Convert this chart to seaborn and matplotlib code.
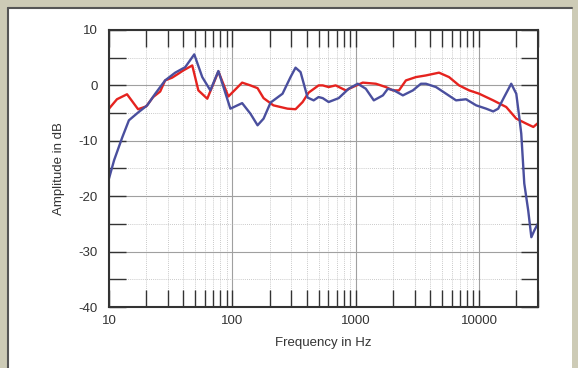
import matplotlib
matplotlib.use("Agg")
import matplotlib.pyplot as plt
import matplotlib.ticker as mticker
from matplotlib.patches import Rectangle
from matplotlib.lines import Line2D
import seaborn as sns
import pandas as pd

# ---- data ----
red_freq = [10, 11.6, 14, 17.2, 20, 22.8, 26, 28.5, 32.5, 36.4, 40, 47.3, 53, 62.6,
            77, 92.8, 120, 140, 160, 179, 215, 280, 325, 371, 415, 500, 540, 603,
            687, 830, 946, 1140, 1455, 1755, 2000, 2240, 2550, 3075, 3705, 4730,
            5705, 6875, 8300, 10000, 13000, 16580, 20000, 24100, 27500, 30000]
red_db = [-4.2, -2.5, -1.6, -4.3, -3.8, -2.1, -1.1, 0.9, 1.4, 2.1, 2.7, 3.6, -0.9, -2.4,
          2.5, -2.0, 0.5, 0.0, -0.5, -2.3, -3.6, -4.2, -4.3, -3.0, -1.3, 0.0, 0.0, -0.3,
          0.0, -0.9, -0.3, 0.5, 0.3, -0.3, -0.9, -0.9, 0.9, 1.5, 1.8, 2.3,
          1.5, 0.0, -0.9, -1.5, -2.7, -3.9, -6.0, -6.9, -7.5, -6.8]

blue_freq = [10, 11, 12.8, 14.5, 17.2, 20.4, 23.7, 28.5, 34.4, 41.5, 49.1, 57, 66.3,
             77, 96.3, 120, 140, 160, 179, 204, 255, 296, 325, 357, 407, 456, 500,
             540, 603, 727, 877, 1038, 1206, 1400, 1660, 1820, 2040, 2410, 2905,
             3375, 3705, 4470, 5395, 6500, 7835, 9460, 11400, 13000, 14270, 15960,
             18200, 20000, 21140, 21950, 23220, 25000, 26500, 28000, 30000]
blue_db = [-16.8, -13.5, -9.4, -6.3, -4.9, -3.6, -1.5, 0.9, 2.3, 3.3, 5.6, 1.5, -0.9,
           2.6, -4.2, -3.2, -5.1, -7.2, -6.0, -3.1, -1.5, 1.5, 3.2, 2.4, -2.2, -2.7, -2.1,
           -2.3, -3.0, -2.3, -0.6, 0.3, -0.6, -2.7, -1.8, -0.6, -0.9, -1.8, -0.9,
           0.3, 0.3, -0.3, -1.5, -2.7, -2.5, -3.6, -4.2, -4.7, -4.2, -2.1,
           0.3, -1.5, -5.7, -8.7, -17.7, -22.6, -27.4, -26.2, -24.9]

x_major = [10, 100, 1000, 10000]
x_labels = ["10", "100", "1000", "10000"]
y_major = [-40, -30, -20, -10, 0, 10]
y_labels = ["-40", "-30", "-20", "-10", "0", "10"]

df = pd.concat([
    pd.DataFrame({"Frequency": red_freq, "dB": red_db, "series": "red"}),
    pd.DataFrame({"Frequency": blue_freq, "dB": blue_db, "series": "blue"}),
], ignore_index=True)

sns.set_style("white")
plt.rcParams["font.family"] = ["Liberation Sans", "DejaVu Sans"]

W, H = 578, 368
fig = plt.figure(figsize=(W / 100, H / 100), dpi=100)
fig.patch.set_facecolor("#cdcbb6")

# white inner panel with dark top/left border
fig.patches.append(Rectangle((8 / W, 0), (572 - 8) / W, (H - 8) / H,
                             transform=fig.transFigure, facecolor="white",
                             edgecolor="none", zorder=-10))
fig.lines.append(Line2D([8 / W, 572 / W], [1 - 8 / H, 1 - 8 / H],
                        transform=fig.transFigure, color="#555555", lw=1.5, zorder=-5))
fig.lines.append(Line2D([8 / W, 8 / W], [0, 1 - 8 / H],
                        transform=fig.transFigure, color="#555555", lw=1.5, zorder=-5))

ax = fig.add_axes([109 / W, 1 - 307 / H, (538 - 109) / W, (307 - 30) / H])
ax.set_facecolor("white")
ax.set_zorder(1)

sns.lineplot(data=df, x="Frequency", y="dB", hue="series",
             palette={"red": "#e5231f", "blue": "#4a4f9e"},
             hue_order=["red", "blue"], linewidth=1.7, ax=ax, legend=False,
             sort=False, estimator=None)

ax.set_xscale("log")
ax.set_xlim(10, 30000)
ax.set_ylim(-40, 10)

ax.xaxis.set_major_locator(mticker.FixedLocator(x_major))
ax.xaxis.set_major_formatter(mticker.FixedFormatter(x_labels))
ax.xaxis.set_minor_locator(mticker.LogLocator(base=10, subs=[2, 3, 4, 5, 6, 7, 8, 9]))
ax.xaxis.set_minor_formatter(mticker.NullFormatter())
ax.yaxis.set_major_locator(mticker.FixedLocator(y_major))
ax.yaxis.set_major_formatter(mticker.FixedFormatter(y_labels))
ax.yaxis.set_minor_locator(mticker.MultipleLocator(5))

ax.grid(which="major", color="#a0a0a0", lw=0.8, ls="-")
ax.grid(which="minor", color="#b8b8b8", lw=0.6, ls=(0, (1, 1.5)))
ax.set_axisbelow(True)

ax.tick_params(which="both", direction="in", top=True, right=True,
               bottom=True, left=True,
               length=12.2, width=1.0, color="#333333")
ax.tick_params(axis="x", which="major", labelsize=9.5, labelcolor="#333333", pad=6)
ax.tick_params(axis="y", which="major", labelsize=9.5, labelcolor="#333333", pad=8)

for s in ax.spines.values():
    s.set_color("#333333")
    s.set_linewidth(1.5)
    s.set_visible(True)

ax.set_xlabel("Frequency in Hz", fontsize=9.5, color="#333333")
ax.set_ylabel("Amplitude in dB", fontsize=9.5, color="#333333")
ax.xaxis.set_label_coords(0.5, (307 - 337) / 277)
ax.yaxis.set_label_coords((65 - 109) / 429, 0.5)

fig.savefig("out.png", dpi=100, facecolor=fig.get_facecolor())
